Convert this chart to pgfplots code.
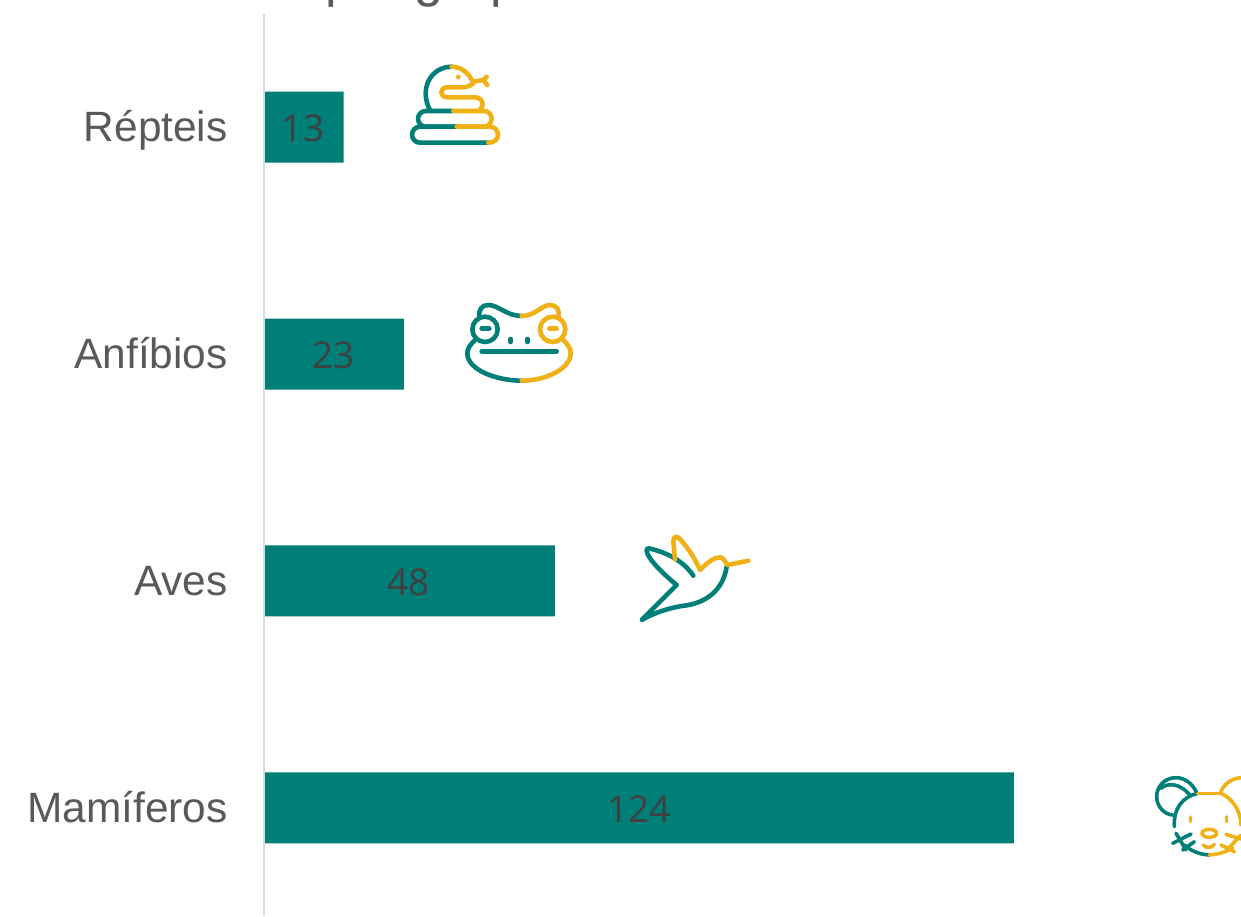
\documentclass[border=0pt]{standalone}
\usepackage{fontspec}
\setmainfont{Liberation Sans}
\newfontfamily\labelfont{Open Sans}
\usepackage{pgfplots}
\pgfplotsset{compat=1.18}
\definecolor{teal}{HTML}{007F78}
\definecolor{gold}{HTML}{F0B117}
\definecolor{txt}{HTML}{595959}
\definecolor{lbl}{HTML}{404040}
\definecolor{axisline}{HTML}{D9D9D9}
\tikzset{
  T/.style={draw=teal,line width=2.3pt,line cap=round,line join=round},
  G/.style={draw=gold,line width=2.3pt,line cap=round,line join=round},
  icon/.style={shift={(#1)},x=0.16667pt,y=-0.16667pt}
}
\begin{document}
\begin{tikzpicture}[x=1pt,y=1pt]
\useasboundingbox (0pt,0pt) rectangle (620.5pt,-458pt);
\begin{axis}[
  at={(132.5pt,-458pt)},anchor=south west,
  scale only axis,width=488pt,height=451pt,
  xmin=0,xmax=161.6,ymin=-0.476,ymax=3.498,
  axis x line=none,
  axis y line=left,
  axis line style={-,draw=axisline,line width=0.75pt,xshift=-0.5pt},
  ytick={0,1,2,3},
  yticklabels={Mamíferos,Aves,Anfíbios,Répteis},
  major tick length=0pt,
  yticklabel style={font=\fontsize{21.2pt}{24pt}\selectfont,text=txt,anchor=east,inner sep=0pt,xshift=-18.5pt,text height=15.5pt,text depth=0pt,yshift=0.5pt},
  clip=false,
]
\addplot[xbar,bar width=35.5pt,bar shift=0pt,fill=teal,draw=none]
  coordinates {(124,0) (48,1) (23,2) (13,3)};
\addplot[draw=none,mark=none,point meta=explicit symbolic,nodes near coords,
  nodes near coords style={anchor=center,inner sep=0pt,text=lbl,yshift=-0.5pt,font=\labelfont\fontsize{18.5pt}{20pt}\selectfont}]
  table[meta=v] {
x y v
61.9 0 124
23.8 1 48
11.4 2 23
6.3 3 13
};
\end{axis}
% clipped chart title: only the descenders fall inside the page
\node[anchor=base west,inner sep=0pt,text=txt,font=\fontsize{26pt}{30pt}\selectfont] at (162.5pt,2pt) {por grupo};
% snake
\begin{scope}[icon={130pt,0pt}]
\draw[T] (575,200) .. controls (530,200) and (497,235) .. (497,280) .. controls (497,300) and (503,318) .. (510,330);
\draw[G] (575,200) .. controls (605,200) and (630,222) .. (640,250) .. controls (630,258) and (620,262) .. (605,262) -- (560,262) .. controls (550,262) and (544,270) .. (544,278) .. controls (544,286) and (552,292) .. (562,292) -- (645,292) .. controls (660,292) and (668,302) .. (668,314) -- (660,333);
\draw[T] (580,333) -- (497,333) .. controls (484,333) and (474,344) .. (474,356) .. controls (474,369) and (484,380) .. (497,380) -- (590,380);
\draw[G] (580,333) -- (672,333) .. controls (685,333) and (695,344) .. (695,356) .. controls (695,369) and (685,380) .. (672,380) -- (590,380);
\draw[T] (590,380) -- (480,380) .. controls (466,380) and (456,392) .. (456,404) .. controls (456,417) and (466,428) .. (480,428) -- (685,428);
\draw[G] (590,380) -- (690,380) .. controls (704,380) and (714,392) .. (714,404) .. controls (714,417) and (704,428) .. (685,428);
\draw[G] (640,245)--(670,240) (680,230)--(670,240)--(682,255);
\fill[gold] (595,231) circle[radius=7];
\end{scope}
% frog
\begin{scope}[icon={220pt,-145pt}]
\draw[T] (245,78) .. controls (200,78) and (175,45) .. (145,45) .. controls (125,45) and (115,60) .. (118,82);
\draw[T] (135,118) circle[radius=38];
\draw[T] (105,150) .. controls (90,165) and (82,175) .. (82,190) .. controls (82,240) and (170,272) .. (245,272);
\draw[G] (245,78) .. controls (285,78) and (305,45) .. (330,45) .. controls (350,45) and (360,60) .. (355,82);
\draw[G] (338,118) circle[radius=38];
\draw[G] (370,150) .. controls (385,165) and (392,175) .. (392,190) .. controls (392,235) and (320,272) .. (245,272);
\draw[T] (125,184)--(350,184);
\draw[T] (212,147)--(212,156) (262,147)--(262,156);
\draw[T] (125,116)--(148,116);
\draw[G] (328,116)--(350,116);
\end{scope}
% bird
\begin{scope}[icon={312.5pt,-262.5pt}]
\draw[T] (205,152) .. controls (170,100) and (110,78) .. (70,70) .. controls (55,72) and (70,110) .. (155,180) -- (50,285) .. controls (90,262) and (130,250) .. (170,243) .. controls (250,235) and (295,190) .. (305,125);
\draw[G] (150,103) -- (145,50) .. controls (145,35) and (155,30) .. (165,42) .. controls (190,70) and (210,100) .. (225,135) .. controls (245,115) and (265,97) .. (285,97) .. controls (295,97) and (300,110) .. (307,120) -- (370,107);
\end{scope}
% mouse
\begin{scope}[icon={570.5pt,-382.5pt},line width=1.7pt]
\clip (0,0) rectangle (300,300);
\tikzset{T/.append style={line width=1.8pt},G/.append style={line width=1.8pt}}
\draw[T] (168,85) .. controls (155,55) and (130,38) .. (105,38) .. controls (70,38) and (47,65) .. (47,95) .. controls (47,125) and (70,148) .. (95,150);
\draw[T] (60,70) .. controls (75,55) and (115,50) .. (148,92);
\draw[T] (170,85) .. controls (125,95) and (97,130) .. (100,185);
\draw[T] (130,240) .. controls (150,258) and (175,268) .. (205,270);
\draw[T] (95,235)--(150,207) (105,205)--(135,255) (125,255)--(160,230);
\draw[G] (170,85)--(240,85);
\draw[G] (238,85) .. controls (245,60) and (270,40) .. (300,38);
\draw[G] (240,85) .. controls (275,100) and (300,140) .. (300,180);
\draw[G] (205,270) .. controls (230,268) and (255,262) .. (275,248);
\draw[G] (148,156)--(148,169) (257,156)--(257,169);
\draw[G] (205,205) ellipse[x radius=22,y radius=12];
\draw[G] (187,240) .. controls (195,250) and (212,250) .. (220,238);
\draw[G] (255,208)--(300,222) (300,210)--(255,258) (240,240)--(280,260);
\end{scope}
\end{tikzpicture}
\end{document}
